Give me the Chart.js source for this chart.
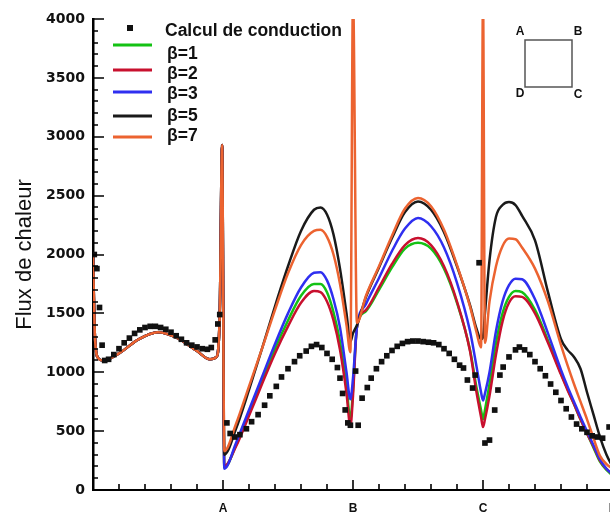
<!DOCTYPE html>
<html>
<head>
<meta charset="utf-8">
<script src="https://cdn.jsdelivr.net/npm/chart.js@4/dist/chart.umd.min.js"></script>
<style>
  body { margin: 0; overflow: hidden; background: #fff; }
  #wrap { width: 620px; height: 513px; }
</style>
</head>
<body>
<div id="wrap"><canvas id="fluxChart" width="620" height="513"></canvas></div>
<script>
"use strict";

// abscissa along the walls A-B-C-D, 0..4
let xTickLabels = ["", "A", "B", "C", "D"];
let yTicks = [0, 500, 1000, 1500, 2000, 2500, 3000, 3500, 4000];

let xBeta = [0, 0.015, 0.04, 0.08, 0.2, 0.35, 0.5, 0.65, 0.8, 0.9, 0.95, 0.975, 0.993,
  1.01, 1.1, 1.2, 1.3, 1.4, 1.5, 1.6, 1.7, 1.75, 1.8, 1.85, 1.9, 1.95, 1.98,
  2.0, 2.03, 2.1, 2.2, 2.3, 2.4, 2.5, 2.6, 2.7, 2.8, 2.9, 2.95, 2.985,
  3.0, 3.015, 3.05, 3.1, 3.15, 3.2, 3.25, 3.3, 3.4, 3.5, 3.6, 3.65, 3.7, 3.75, 3.8, 3.85, 3.9, 3.95, 4.0];

let beta1 = [2000, 1300, 1120, 1100, 1160, 1280, 1340, 1290, 1180, 1110, 1130, 1500, 2930,
  190, 380, 650, 930, 1200, 1440, 1650, 1750, 1750, 1680, 1510, 1260, 880, 600,
  850, 1380, 1520, 1700, 1890, 2050, 2100, 2050, 1880, 1590, 1190, 870, 680,
  600, 680, 900, 1250, 1500, 1640, 1690, 1680, 1530, 1270, 990, 860, 730, 600, 480, 360, 240, 170, 120];

let beta2 = [2000, 1300, 1120, 1100, 1160, 1280, 1340, 1290, 1180, 1110, 1130, 1500, 2930,
  200, 370, 630, 900, 1160, 1390, 1590, 1690, 1680, 1600, 1440, 1190, 820, 540,
  800, 1380, 1530, 1720, 1920, 2080, 2140, 2080, 1900, 1600, 1180, 830, 620,
  535, 600, 800, 1150, 1430, 1590, 1645, 1640, 1500, 1250, 980, 850, 730, 600, 480, 370, 250, 180, 130];

let beta3 = [2000, 1300, 1120, 1100, 1160, 1280, 1340, 1290, 1180, 1110, 1130, 1500, 2930,
  180, 400, 680, 960, 1240, 1500, 1720, 1845, 1850, 1780, 1620, 1380, 1000, 770,
  950, 1380, 1580, 1800, 2030, 2220, 2310, 2240, 2060, 1760, 1350, 1050, 830,
  760, 820, 1000, 1350, 1600, 1740, 1795, 1790, 1620, 1330, 1020, 880, 750, 620, 500, 380, 260, 180, 130];

let beta5 = [2000, 1300, 1120, 1100, 1160, 1280, 1340, 1290, 1180, 1110, 1130, 1500, 2930,
  300, 520, 850, 1200, 1560, 1900, 2200, 2380, 2400, 2340, 2170, 1880, 1500, 1260,
  1330, 1400, 1640, 1890, 2140, 2360, 2450, 2380, 2190, 1900, 1570, 1370, 1280,
  1300, 1500, 1950, 2320, 2420, 2445, 2420, 2330, 2120, 1680, 1280, 1190, 1130, 1030, 830, 640, 450, 300, 190];

let beta7 = [2000, 1300, 1120, 1100, 1160, 1280, 1340, 1290, 1180, 1110, 1130, 1500, 2930,
  330, 560, 880, 1200, 1530, 1840, 2080, 2200, 2210, 2150, 2000, 1750, 1400, 1170,
  4200, 1420, 1650, 1900, 2160, 2390, 2480, 2410, 2210, 1910, 1560, 1340, 1210,
  4200, 1250, 1600, 1900, 2070, 2135, 2130, 2060, 1880, 1600, 1230, 1060, 900, 750, 600, 440, 290, 220, 180];

let xCond = [0.01, 0.03, 0.05, 0.07, 0.09, 0.12, 0.16, 0.2, 0.24, 0.28, 0.32, 0.36, 0.4, 0.44, 0.48, 0.52, 0.56, 0.6, 0.64, 0.68, 0.72, 0.76, 0.8, 0.84, 0.88, 0.91, 0.94, 0.96, 0.975,
  1.03, 1.055, 1.09, 1.13, 1.18, 1.22, 1.27, 1.32, 1.36, 1.41, 1.45, 1.5, 1.55, 1.59, 1.64, 1.68, 1.72, 1.76, 1.8, 1.84, 1.88, 1.9, 1.92, 1.94, 1.96, 1.98,
  2.02, 2.04, 2.07, 2.11, 2.14, 2.18, 2.22, 2.26, 2.3, 2.34, 2.38, 2.42, 2.46, 2.5, 2.54, 2.58, 2.62, 2.66, 2.7, 2.74, 2.78, 2.82, 2.85, 2.88, 2.92, 2.94, 2.97,
  3.015, 3.05, 3.09, 3.115, 3.13, 3.155, 3.2, 3.25, 3.28, 3.32, 3.36, 3.4, 3.44, 3.48, 3.52, 3.56, 3.6, 3.64, 3.68, 3.72, 3.76, 3.8, 3.84, 3.88, 3.92, 3.97];

let yCond = [2000, 1880, 1550, 1230, 1100, 1110, 1150, 1200, 1250, 1290, 1330, 1360, 1380, 1390, 1390, 1380, 1365, 1340, 1310, 1280, 1250, 1230, 1215, 1200, 1195, 1210, 1275, 1410, 1490,
  570, 480, 450, 470, 520, 580, 640, 720, 800, 880, 960, 1030, 1090, 1140, 1180, 1220, 1235, 1210, 1160, 1110, 1040, 950, 820, 680, 570, 550,
  1010, 550, 780, 870, 950, 1030, 1090, 1140, 1185, 1220, 1245, 1260, 1265, 1265, 1260, 1255, 1250, 1235, 1200, 1160, 1110, 1060, 1036, 934, 866, 976, 1930,
  399, 424, 679, 849, 976, 1044, 1130, 1190, 1214, 1190, 1150, 1090, 1030, 970, 900, 830, 760, 690, 620, 560, 520, 490, 460, 450, 440, 535];

let seriesNames = ["β=1", "β=2", "β=3", "β=5", "β=7"];
let seriesValues = [beta1, beta2, beta3, beta5, beta7];
let seriesColors = ["#14c214", "#c8102e", "#2f2ff0", "#1a1a1a", "#ec6330"];
let seriesOrder = [5, 4, 3, 2, 1];

function toPoints(xs, ys) {
  let pts = [];
  for (let i = 0; i < xs.length; i++) {
    pts.push({ x: xs[i], y: ys[i] });
  }
  return pts;
}

let datasets = [{
  label: "Calcul de conduction",
  data: toPoints(xCond, yCond),
  showLine: false,
  pointStyle: "rect",
  pointRadius: 4,
  pointBorderWidth: 0,
  pointBackgroundColor: "#111",
  order: 0,
}];

for (let i = 0; i < seriesNames.length; i++) {
  datasets.push({
    label: seriesNames[i],
    data: toPoints(xBeta, seriesValues[i]),
    showLine: true,
    borderColor: seriesColors[i],
    borderWidth: 2.5,
    pointRadius: 0,
    cubicInterpolationMode: "monotone",
    order: seriesOrder[i],
  });
}

// tecplot style ticks, pointing inside the frame
let innerTicks = {
  id: "innerTicks",
  afterDatasetsDraw(chart) {
    let ctx = chart.ctx;
    let xs = chart.scales.x;
    let ys = chart.scales.y;
    let area = chart.chartArea;
    ctx.save();
    ctx.strokeStyle = "#000";
    ctx.lineWidth = 1.6;
    ctx.beginPath();
    for (let v = 0; v <= 4.001; v += 0.2) {
      let px = Math.round(xs.getPixelForValue(v));
      let len = Math.abs(v - Math.round(v)) < 0.01 ? 10 : 6;
      ctx.moveTo(px, area.bottom);
      ctx.lineTo(px, area.bottom - len);
    }
    for (let v = 0; v <= 4000; v += 100) {
      let py = Math.round(ys.getPixelForValue(v));
      let len = v % 500 === 0 ? 11 : 5;
      ctx.moveTo(area.left, py);
      ctx.lineTo(area.left + len, py);
    }
    ctx.stroke();
    ctx.restore();
  },
};

let legendAndSketch = {
  id: "legendAndSketch",
  afterDraw(chart) {
    let ctx = chart.ctx;
    let ds = chart.data.datasets;
    ctx.save();
    ctx.textBaseline = "middle";
    ctx.textAlign = "left";
    ctx.fillStyle = "#111";
    ctx.font = "bold 17.5px 'Liberation Sans', Arial, sans-serif";

    ctx.fillRect(127, 25, 6, 6);
    ctx.fillText(ds[0].label, 165, 31);

    let lineY = [45, 70, 92, 116, 137];
    let textY = [54, 74, 94, 116, 136];
    for (let i = 1; i < ds.length; i++) {
      ctx.strokeStyle = ds[i].borderColor;
      ctx.lineWidth = 3;
      ctx.beginPath();
      ctx.moveTo(113, lineY[i - 1]);
      ctx.lineTo(152, lineY[i - 1]);
      ctx.stroke();
      ctx.fillStyle = "#111";
      ctx.fillText(ds[i].label, 167, textY[i - 1]);
    }

    // small cavity sketch
    ctx.strokeStyle = "#555";
    ctx.lineWidth = 1.5;
    ctx.strokeRect(525, 40, 47, 47);
    ctx.fillStyle = "#111";
    ctx.font = "bold 12px 'Liberation Sans', Arial, sans-serif";
    ctx.textAlign = "center";
    ctx.fillText("A", 520, 32);
    ctx.fillText("B", 578, 32);
    ctx.fillText("D", 520, 94);
    ctx.fillText("C", 578, 95);
    ctx.restore();
  },
};

let ctx = document.getElementById("fluxChart").getContext("2d");
let fluxChart = new Chart(ctx, {
  type: "scatter",
  data: { datasets: datasets },
  plugins: [innerTicks, legendAndSketch],
  options: {
    responsive: false,
    animation: false,
    devicePixelRatio: 1,
    layout: { padding: { top: 19, right: 7, left: 0, bottom: 0 } },
    plugins: {
      legend: { display: false },
      tooltip: { enabled: false },
    },
    scales: {
      x: {
        type: "linear",
        min: 0,
        max: 4,
        afterFit(scale) {
          scale.height = 23;
          scale.paddingLeft = 0;
          scale.paddingRight = 0;
        },
        grid: { display: false, drawTicks: false, tickLength: 0 },
        border: { display: true, color: "#000", width: 2 },
        ticks: {
          stepSize: 1,
          padding: 11,
          maxRotation: 0,
          color: "#111",
          font: { family: "'Liberation Sans', Arial, sans-serif", size: 12, weight: "bold" },
          callback: function (value) {
            return xTickLabels[Math.round(value)] || "";
          },
        },
      },
      y: {
        min: 0,
        max: 4000,
        afterFit(scale) {
          scale.width = 93;
          scale.paddingTop = 0;
          scale.paddingBottom = 0;
        },
        afterBuildTicks(scale) {
          scale.ticks = yTicks.map(function (v) { return { value: v }; });
        },
        grid: { display: false, drawTicks: false, tickLength: 0 },
        border: { display: true, color: "#000", width: 2.5 },
        title: {
          display: true,
          text: "Flux de chaleur",
          color: "#111",
          padding: { top: 12, bottom: 0 },
          font: { family: "'Liberation Sans', Arial, sans-serif", size: 22 },
        },
        ticks: {
          padding: 8,
          color: "#111",
          font: { family: "'DejaVu Sans', sans-serif", size: 14, weight: "bold" },
          callback: function (value) {
            return String(value);
          },
        },
      },
    },
  },
});
</script>
</body>
</html>
